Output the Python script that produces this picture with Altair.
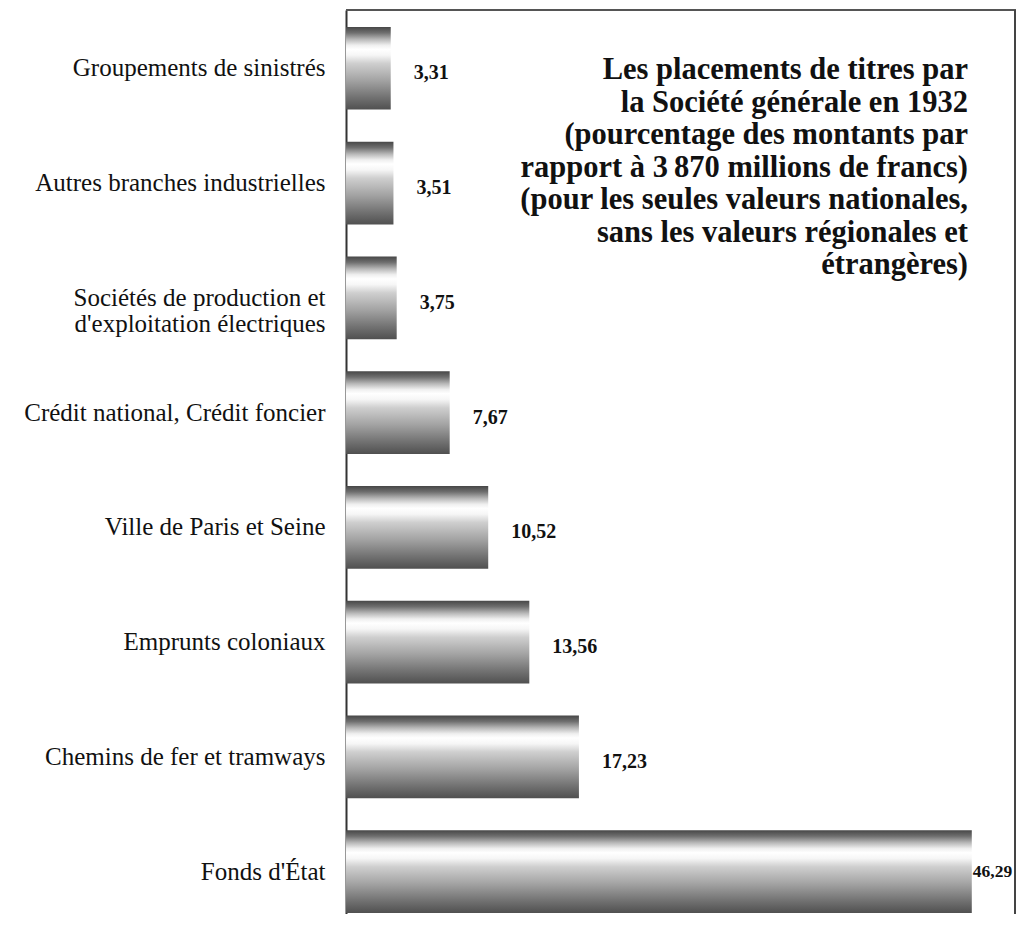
import altair as alt
import pandas as pd

categories = [
    "Groupements de sinistrés",
    "Autres branches industrielles",
    "Sociétés de production et|d'exploitation électriques",
    "Crédit national, Crédit foncier",
    "Ville de Paris et Seine",
    "Emprunts coloniaux",
    "Chemins de fer et tramways",
    "Fonds d'État",
]
values = [3.31, 3.51, 3.75, 7.67, 10.52, 13.56, 17.23, 46.29]
labels = [f"{v:.2f}".replace(".", ",") for v in values]

title_lines = [
    "Les placements de titres par",
    "la Société générale en 1932",
    "(pourcentage des montants par",
    "rapport à 3\u202f870 millions de francs)",
    "(pour les seules valeurs nationales,",
    "sans les valeurs régionales et",
    "étrangères)",
]

df = pd.DataFrame({"cat": categories, "val": values, "lab": labels})

W, H = 670, 904
FONT = "Liberation Serif"

gradient = alt.LinearGradient(
    gradient="linear",
    x1=0, y1=0, x2=0, y2=1,
    stops=[
        alt.GradientStop(color="#474747", offset=0.0),
        alt.GradientStop(color="#6e6e6e", offset=0.07),
        alt.GradientStop(color="#b8b8b8", offset=0.15),
        alt.GradientStop(color="#efefef", offset=0.22),
        alt.GradientStop(color="#ffffff", offset=0.27),
        alt.GradientStop(color="#f6f6f6", offset=0.34),
        alt.GradientStop(color="#cfcfcf", offset=0.44),
        alt.GradientStop(color="#a2a2a2", offset=0.65),
        alt.GradientStop(color="#727272", offset=0.85),
        alt.GradientStop(color="#505050", offset=1.0),
    ],
)

xenc = alt.X("val:Q", scale=alt.Scale(domain=[0, 49.56]), axis=None)
yenc = alt.Y(
    "cat:N",
    sort=categories,
    scale=alt.Scale(paddingInner=0.28, paddingOuter=0.0784, align=0.944),
    axis=alt.Axis(
        title=None,
        domain=True,
        domainColor="#333333",
        domainWidth=2,
        ticks=False,
        grid=False,
        labelPadding=21,
        labelFont=FONT,
        labelFontSize=25,
        labelColor="#111111",
        labelExpr="split(datum.label, '|')",
        labelLineHeight=26,
        labelLimit=400,
    ),
)

base = alt.Chart(df)

bars = base.mark_bar(color=gradient).encode(x=xenc, y=yenc)

txt_small = base.transform_filter("datum.val < 40").mark_text(
    align="left", baseline="middle", dx=23, dy=5,
    font=FONT, fontSize=20, fontWeight="bold", color="#111111",
).encode(x=xenc, y=yenc, text="lab:N")

txt_big = base.transform_filter("datum.val >= 40").mark_text(
    align="left", baseline="middle", dx=1, dy=0,
    font=FONT, fontSize=17.5, fontWeight="bold", color="#111111",
).encode(x=xenc, y=yenc, text="lab:N")

one = alt.Chart(pd.DataFrame({"a": [0]}))
top_rule = one.mark_rule(color="#555555", strokeWidth=2).encode(
    x=alt.value(0), x2=alt.value(W), y=alt.value(0)
)
right_rule = one.mark_rule(color="#444444", strokeWidth=2).encode(
    x=alt.value(W - 1), y=alt.value(0), y2=alt.value(H)
)

title = alt.Chart(pd.DataFrame({"t": ["\n".join(title_lines)]})).mark_text(
    align="right", baseline="alphabetic", lineBreak="\n", lineHeight=32.5,
    font=FONT, fontSize=30.5, fontWeight="bold", color="#111111",
).encode(x=alt.value(622), y=alt.value(69), text="t:N")

chart = (
    alt.layer(bars, txt_small, txt_big, top_rule, right_rule, title)
    .properties(
        width=W,
        height=H,
        padding={"left": 338, "top": 2, "right": 0, "bottom": 0},
        autosize=alt.AutoSizeParams(type="none"),
        background="white",
    )
    .configure_view(stroke=None)
)

chart.save("out.html", embed_options={"renderer": "svg", "actions": False})
